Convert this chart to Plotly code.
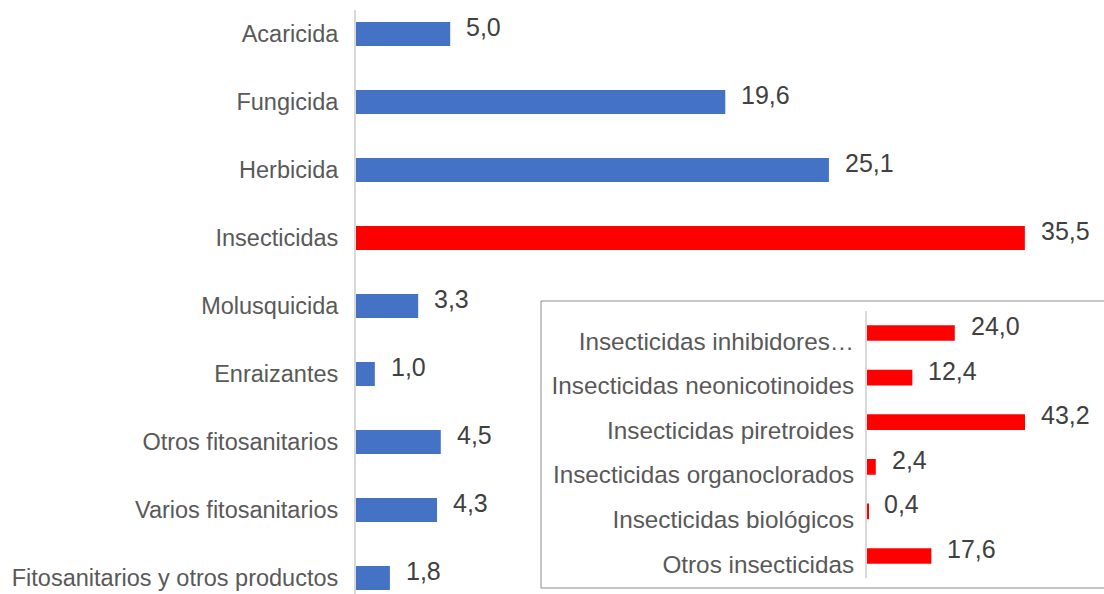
import plotly.graph_objects as go

# datos principales
categorias = ["Acaricida", "Fungicida", "Herbicida", "Insecticidas", "Molusquicida",
              "Enraizantes", "Otros fitosanitarios", "Varios fitosanitarios",
              "Fitosanitarios y otros productos"]
valores = [5.0, 19.6, 25.1, 35.5, 3.3, 1.0, 4.5, 4.3, 1.8]
colores = ["#4472C4", "#4472C4", "#4472C4", "#FF0000", "#4472C4",
           "#4472C4", "#4472C4", "#4472C4", "#4472C4"]

# desglose de insecticidas
cat_insect = ["Insecticidas inhibidores…", "Insecticidas neonicotinoides",
              "Insecticidas piretroides", "Insecticidas organoclorados",
              "Insecticidas biológicos", "Otros insecticidas"]
val_insect = [24.0, 12.4, 43.2, 2.4, 0.4, 17.6]

gris = "#595959"
fuente = "Liberation Sans"


def etiqueta(v):
    return f"{v:.1f}".replace(".", ",")


fig = go.Figure()

fig.add_trace(go.Bar(x=valores, y=categorias, orientation="h",
                     marker=dict(color=colores, line=dict(width=0)),
                     xaxis="x", yaxis="y", showlegend=False))

fig.add_trace(go.Bar(x=val_insect, y=cat_insect, orientation="h",
                     marker=dict(color="#FF0000", line=dict(width=0)),
                     xaxis="x2", yaxis="y2", showlegend=False))

anotaciones = []
for c, v in zip(categorias, valores):
    anotaciones.append(dict(x=v, y=c, xref="x", yref="y", text=etiqueta(v),
                            showarrow=False, xanchor="left", xshift=14, yshift=7,
                            font=dict(size=25, color="#404040", family=fuente)))
for c, v in zip(cat_insect, val_insect):
    anotaciones.append(dict(x=v, y=c, xref="x2", yref="y2", text=etiqueta(v),
                            showarrow=False, xanchor="left", xshift=14, yshift=7,
                            font=dict(size=25, color="#404040", family=fuente)))

fig.update_layout(
    width=1104, height=594,
    margin=dict(l=0, r=0, t=0, b=0),
    paper_bgcolor="white", plot_bgcolor="rgba(0,0,0,0)",
    font=dict(family=fuente, size=23.5, color=gris),
    bargap=0.647,
    xaxis=dict(domain=[356 / 1104, 1], range=[0, 39.7], visible=False),
    yaxis=dict(domain=[0, 584 / 594], range=[8.235, -0.353], type="category",
               showline=True, linecolor="#d9d9d9", linewidth=2,
               showgrid=False, ticks="", ticklabelstandoff=11,
               tickfont=dict(size=23.5, color=gris)),
    xaxis2=dict(domain=[867 / 1104, 1], range=[0, 64.8], visible=False,
                anchor="y2"),
    yaxis2=dict(domain=[1 - 578.3 / 594, 1 - 310.7 / 594], range=[5.5, -0.5],
                type="category", anchor="x2",
                showline=True, linecolor="#d9d9d9", linewidth=2,
                showgrid=False, ticks="", ticklabelstandoff=6,
                ticklabelshift=-8,
                tickfont=dict(size=24.3, color=gris)),
    shapes=[dict(type="rect", xref="paper", yref="paper",
                 x0=541 / 1104, x1=1.02, y0=1 - 588 / 594, y1=1 - 301 / 594,
                 line=dict(color="#8c8c8c", width=1), fillcolor="white",
                 layer="below")],
    annotations=anotaciones,
)

fig.write_html("out.html", config={"displayModeBar": False},
               post_script="document.body.style.margin='0';")
